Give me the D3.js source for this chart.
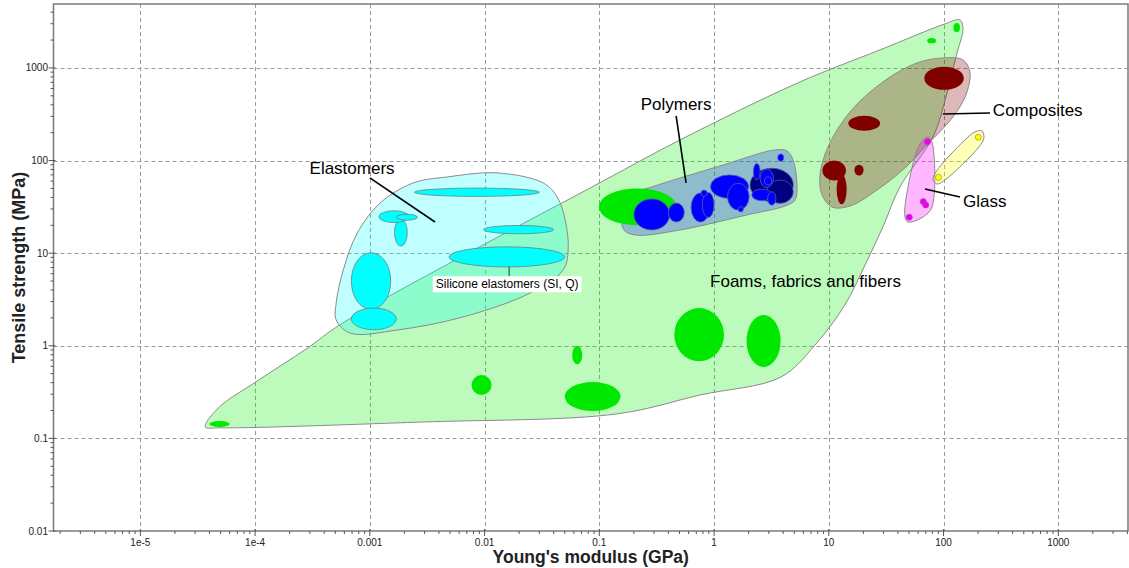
<!DOCTYPE html>
<html><head><meta charset="utf-8">
<script src="https://cdn.jsdelivr.net/npm/d3@7"></script>
<style>
html,body{margin:0;padding:0;background:#fff;}
svg{display:block;font-family:"Liberation Sans",Arial,sans-serif;}
</style></head><body>
<svg id="chart" width="1129" height="568"></svg>
<script>
// Ashby-style property chart: Young's modulus (GPa) vs tensile strength (MPa), log-log

const xDomain = [1.75e-6, 4050];
const yDomain = [0.01, 4900];
const xTickValues = [1e-5, 1e-4, 1e-3, 1e-2, 0.1, 1, 10, 100, 1000];
const xTickLabels = ["1e-5", "1e-4", "0.001", "0.01", "0.1", "1", "10", "100", "1000"];
const yTickValues = [0.01, 0.1, 1, 10, 100, 1000];
const yTickLabels = ["0.01", "0.1", "1", "10", "100", "1000"];

// Material bubbles: [E min, E max, strength min, strength max]
const foamBubbles = [
  [4.0e-5, 6.0e-5, 0.133, 0.154],
  [0.0077, 0.0115, 0.294, 0.484],
  [0.058, 0.071, 0.633, 1.0],
  [0.050, 0.153, 0.197, 0.406],
  [0.45, 1.22, 0.68, 2.55],
  [1.92, 3.8, 0.59, 2.15],
  [72, 86, 1850, 2100],
  [122, 139, 2430, 3060],
  [0.099, 0.47, 20, 50]
];
const elastomerBubbles = [
  [0.00245, 0.030, 41, 50.4],
  [0.0098, 0.040, 16.2, 19.9],
  [0.0049, 0.050, 7.1, 11.7],
  [0.00069, 0.00152, 2.47, 10.1],
  [0.00069, 0.0017, 1.49, 2.55],
  [0.00164, 0.00212, 11.95, 23.2],
  [0.0012, 0.0022, 21.4, 28.7],
  [0.0017, 0.0026, 22.7, 26.3]
];
const polymerDarkBubbles = [
  [2.06, 4.9, 36, 82.5],
  [2.87, 4.9, 34.5, 61.7]
];
const polymerBubbles = [
  [0.2, 0.41, 17.8, 38.5],
  [0.40, 0.55, 21.7, 34.8],
  [0.63, 0.92, 21.7, 44.7],
  [0.79, 1.0, 24.3, 45.3],
  [0.77, 0.87, 41, 48],
  [0.93, 2.0, 39, 70],
  [1.31, 2.02, 29.2, 56.8],
  [1.62, 1.80, 27.9, 31.9],
  [2.52, 3.29, 51, 81],
  [2.13, 3.18, 36.8, 49.2],
  [2.2, 2.52, 62, 93],
  [2.93, 3.46, 33, 46],
  [3.59, 4.05, 98, 118],
  [2.75, 3.17, 54.5, 66.5]
];
const compositeBubbles = [
  [68, 150, 580, 1030],
  [14.8, 28, 210, 305],
  [8.8, 14.1, 61, 100],
  [16.7, 20.1, 69, 90],
  [11.7, 14.3, 33.7, 71]
];
const glassBubbles = [
  [68, 77, 148, 172],
  [62.7, 70.7, 33.4, 38.8],
  [65.8, 74.2, 30.8, 35.7],
  [47.3, 53.4, 22.7, 26.3]
];
const ceramicBubbles = [
  [189, 213, 166, 192],
  [85, 96, 61, 71]
];

// Family envelopes: [E, strength] outline points
const foamEnvelope = [
  [3.68e-5, 0.133], [4.78e-5, 0.213], [1.045e-4, 0.417], [2.79e-4, 0.924], [5.63e-4, 1.72],
  [0.0075, 10.3], [0.0832, 50.6], [0.506, 167], [5.61, 706], [27.9, 1565], [102.8, 2985],
  [139, 3297], [147.6, 2704], [128.3, 1314], [105, 486], [80.9, 180], [41.7, 51.9],
  [29.6, 19.2], [20.7, 7.46], [13.8, 2.76], [7.58, 1.02], [3.83, 0.46], [0.755, 0.294],
  [0.143, 0.184], [0.00275, 0.150], [4.97e-5, 0.130]
];
const elastomerEnvelope = [
  [5.09e-4, 2.90], [5.87e-4, 6.59], [7.77e-4, 16.5], [1.23e-3, 34.8], [2.39e-3, 57.3],
  [4.72e-3, 66.5], [0.0129, 73.5], [0.0324, 57.3], [0.0429, 40.4], [0.0504, 22.8],
  [0.0535, 10.8], [0.0484, 6.59], [0.0250, 3.72], [6.51e-3, 2.05], [1.73e-3, 1.48],
  [6.75e-4, 1.37], [5.09e-4, 1.90]
];
const polymerEnvelope = [
  [0.168, 40.4], [0.306, 53.2], [1.128, 87.4], [3.40, 130.2], [4.32, 127.0], [4.88, 101.5],
  [5.28, 54.5], [5.08, 37.5], [4.15, 32.3], [1.94, 25.9], [0.506, 17.8], [0.205, 15.7],
  [0.164, 17.8], [0.155, 27.9]
];
const compositeEnvelope = [
  [98.8, 1282], [147.6, 1220], [169.8, 905], [156.7, 511], [120.8, 295.8], [71.7, 147.4],
  [46.1, 83.2], [27.9, 50.6], [15.3, 32.3], [10.66, 31.5], [8.73, 42.6], [8.38, 70.1],
  [9.84, 140.3], [15.3, 334.8], [29.6, 706], [58.6, 1132]
];
const glassEnvelope = [
  [73.1, 179.8], [79.2, 158.8], [79.2, 31.5], [66.2, 24.6], [49.0, 21.7], [46.1, 24.6],
  [51.0, 66.5], [62.3, 151.1]
];
const ceramicEnvelope = [
  [187.7, 203.7], [216.1, 208.8], [224.9, 175.4], [203.4, 140.3], [102.8, 61.7],
  [87.6, 55.8], [80.9, 61.7], [85.9, 75.3], [153.6, 167]
];

// Family labels: text position and leader line in data units
const familyLabels = [
  { text: "Elastomers", at: [7.0e-4, 83], anchor: "middle", line: [[1.0e-3, 65], [3.7e-3, 21.7]] },
  { text: "Polymers", at: [0.467, 408], anchor: "middle", line: [[0.467, 303], [0.57, 57.3]] },
  { text: "Composites", at: [269, 352], anchor: "start", line: [[253.6, 326.6], [98.8, 318]] },
  { text: "Glass", at: [147.6, 36.6], anchor: "start", line: [[139, 40.4], [68.9, 49.3]] },
  { text: "Foams, fabrics and fibers", at: [0.923, 5.01], anchor: "start", line: null }
];
const siliconeLabel = { text: "Silicone elastomers (SI, Q)", at: [0.01573, 4.65], line: [[0.01637, 7.1], [0.01637, 5.67]] };

// ---------------------------------------------------------------------------
const W = 1129, H = 568;
const plot = { left: 53.5, right: 1128, top: 4, bottom: 531 };

const svg = d3.select("#chart");
const x = d3.scaleLog().domain(xDomain).range([plot.left, plot.right]);
const y = d3.scaleLog().domain(yDomain).range([plot.bottom, plot.top]);

svg.append("defs").append("clipPath").attr("id", "plotClip")
  .append("rect").attr("x", plot.left).attr("y", plot.top)
  .attr("width", plot.right - plot.left).attr("height", plot.bottom - plot.top);

// Grid
const grid = svg.append("g").attr("stroke", "#9a9a9a").attr("stroke-width", 1)
  .attr("stroke-dasharray", "4,3").attr("fill", "none");
xTickValues.forEach(v => grid.append("line")
  .attr("x1", Math.round(x(v)) + 0.5).attr("x2", Math.round(x(v)) + 0.5)
  .attr("y1", plot.top).attr("y2", plot.bottom));
yTickValues.filter(v => v > yDomain[0]).forEach(v => grid.append("line")
  .attr("y1", Math.round(y(v)) + 0.5).attr("y2", Math.round(y(v)) + 0.5)
  .attr("x1", plot.left).attr("x2", plot.right));

const chart = svg.append("g").attr("clip-path", "url(#plotClip)");

const hull = d3.line().x(d => x(d[0])).y(d => y(d[1])).curve(d3.curveCatmullRomClosed.alpha(0.5));

const families = [
  { env: foamEnvelope, color: "#00ee00", op: 0.26 },
  { env: elastomerEnvelope, color: "#00ffff", op: 0.25 },
  { env: polymerEnvelope, color: "#0000ff", op: 0.25 },
  { env: compositeEnvelope, color: "#800000", op: 0.28 },
  { env: glassEnvelope, color: "#ff00ff", op: 0.28 },
  { env: ceramicEnvelope, color: "#ffff00", op: 0.28 }
];
chart.append("g").selectAll("path").data(families).join("path")
  .attr("d", d => hull(d.env))
  .attr("fill", d => d.color).attr("fill-opacity", d => d.op)
  .attr("stroke", "#8a8a8a").attr("stroke-width", 1);

function bubbles(data, fill, stroke) {
  chart.append("g").selectAll("ellipse").data(data).join("ellipse")
    .attr("cx", d => (x(d[0]) + x(d[1])) / 2)
    .attr("cy", d => (y(d[2]) + y(d[3])) / 2)
    .attr("rx", d => (x(d[1]) - x(d[0])) / 2)
    .attr("ry", d => (y(d[2]) - y(d[3])) / 2)
    .attr("fill", fill)
    .attr("stroke", stroke || "none")
    .attr("stroke-width", 0.8);
}
bubbles(foamBubbles, "#00e800");
bubbles(elastomerBubbles, "#00ffff", "#6f7f80");
bubbles(polymerDarkBubbles, "#000080", "#50508a");
bubbles(polymerBubbles, "#0000ff", "#5a5ab0");
bubbles(compositeBubbles, "#800000");
bubbles(glassBubbles, "#ee00ee", "#b040b0");
bubbles(ceramicBubbles, "#ffff00", "#a0a040");

// Labels and leader lines
const ann = svg.append("g");
familyLabels.forEach(l => {
  if (l.line) ann.append("line")
    .attr("x1", x(l.line[0][0])).attr("y1", y(l.line[0][1]))
    .attr("x2", x(l.line[1][0])).attr("y2", y(l.line[1][1]))
    .attr("stroke", "#000").attr("stroke-width", 1.6);
  ann.append("text").attr("x", x(l.at[0])).attr("y", y(l.at[1]) + 6)
    .attr("text-anchor", l.anchor).attr("font-size", 17).attr("fill", "#000").text(l.text);
});
{
  const l = siliconeLabel;
  ann.append("line")
    .attr("x1", x(l.line[0][0])).attr("y1", y(l.line[0][1]))
    .attr("x2", x(l.line[1][0])).attr("y2", y(l.line[1][1]))
    .attr("stroke", "#333").attr("stroke-width", 1);
  const g = ann.append("g");
  const t = g.append("text").attr("x", x(l.at[0])).attr("y", y(l.at[1]) + 4.3)
    .attr("text-anchor", "middle").attr("font-size", 12).attr("fill", "#000").text(l.text);
  const bb = t.node().getBBox();
  g.insert("rect", "text").attr("x", bb.x - 3).attr("y", bb.y - 1)
    .attr("width", bb.width + 6).attr("height", bb.height + 2).attr("fill", "#fff");
}

// Axes frame and ticks
const axisColor = "#7a7a7a";
svg.append("rect").attr("x", plot.left).attr("y", plot.top)
  .attr("width", plot.right - plot.left).attr("height", plot.bottom - plot.top)
  .attr("fill", "none").attr("stroke", axisColor).attr("stroke-width", 1.5);

const minorX = [], minorY = [];
for (let e = -7; e <= 4; e++) for (let k = 2; k <= 9; k++) {
  const v = k * Math.pow(10, e);
  if (v > xDomain[0] && v < xDomain[1]) minorX.push(v);
  if (v > yDomain[0] && v < yDomain[1]) minorY.push(v);
}
const ticks = svg.append("g").attr("stroke", "#555").attr("stroke-width", 1);
minorX.forEach(v => ticks.append("line").attr("x1", x(v)).attr("x2", x(v))
  .attr("y1", plot.bottom).attr("y2", plot.bottom + 3));
xTickValues.forEach(v => ticks.append("line").attr("x1", x(v)).attr("x2", x(v))
  .attr("y1", plot.bottom - 2).attr("y2", plot.bottom + 5));
minorY.forEach(v => ticks.append("line").attr("y1", y(v)).attr("y2", y(v))
  .attr("x1", plot.left - 3).attr("x2", plot.left));
yTickValues.forEach(v => ticks.append("line").attr("y1", y(v)).attr("y2", y(v))
  .attr("x1", plot.left - 5).attr("x2", plot.left + 2));

svg.append("g").selectAll("text").data(xTickValues).join("text")
  .attr("x", d => x(d)).attr("y", plot.bottom + 14.5)
  .attr("text-anchor", "middle").attr("font-size", 10).attr("fill", "#222")
  .text((d, i) => xTickLabels[i]);
svg.append("g").selectAll("text").data(yTickValues).join("text")
  .attr("x", plot.left - 5.5).attr("y", d => y(d) + 3.5)
  .attr("text-anchor", "end").attr("font-size", 10).attr("fill", "#222")
  .text((d, i) => yTickLabels[i]);

svg.append("text").attr("x", (plot.left + plot.right) / 2).attr("y", 563)
  .attr("text-anchor", "middle").attr("font-size", 17.5).attr("font-weight", "bold")
  .attr("fill", "#222").text("Young's modulus (GPa)");
svg.append("text").attr("transform", `translate(24.5,${(plot.top + plot.bottom) / 2}) rotate(-90)`)
  .attr("text-anchor", "middle").attr("font-size", 18).attr("font-weight", "bold")
  .attr("fill", "#222").text("Tensile strength (MPa)");
</script>
</body></html>
